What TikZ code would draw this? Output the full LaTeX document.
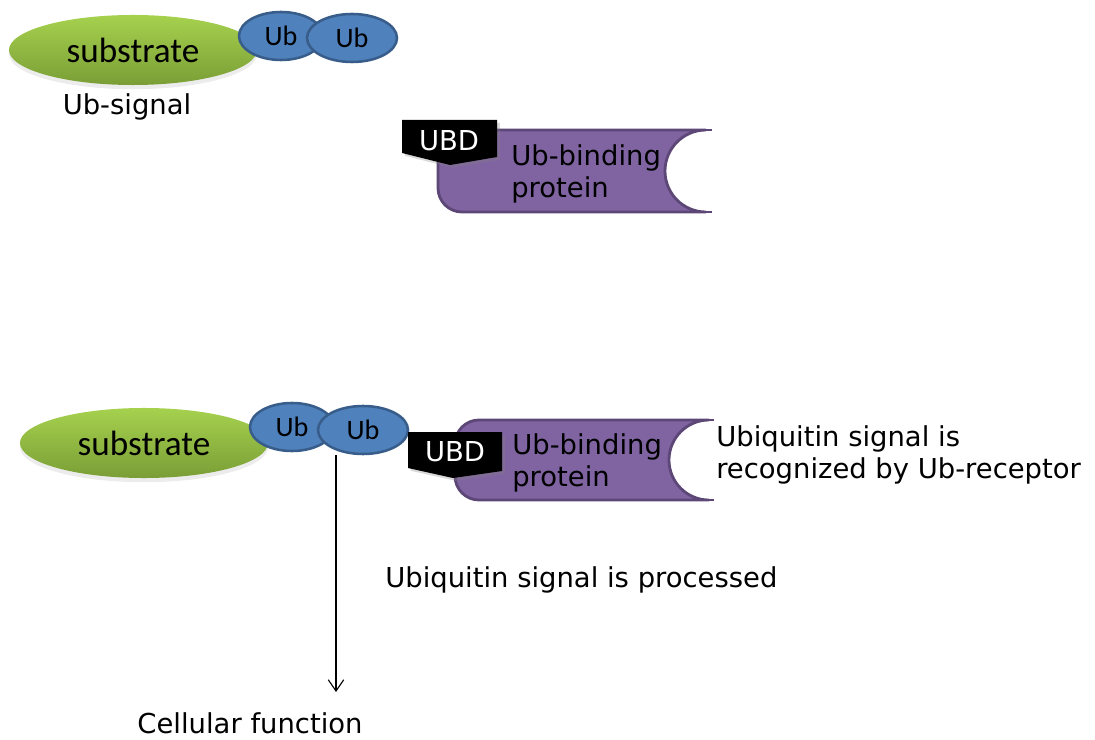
\documentclass[tikz,border=0pt]{standalone}
\usepackage{fontspec}
\setmainfont{DejaVu Sans}
\newfontfamily\calibrifont{Carlito}
\usetikzlibrary{shapes.geometric, arrows.meta, shadows}
\definecolor{subtop}{HTML}{A6D14E}
\definecolor{subbot}{HTML}{7A9E36}
\definecolor{ubfill}{HTML}{4F81BD}
\definecolor{ubline}{HTML}{385D8A}
\definecolor{protfill}{HTML}{8064A2}
\definecolor{protline}{HTML}{5C4776}

\begin{document}
\begin{tikzpicture}[x=0.025cm, y=-0.025cm,
  substrate/.style={ellipse, inner sep=0pt, minimum width=6.2cm, minimum height=1.75cm,
    top color=subtop, bottom color=subbot,
    drop shadow={shadow xshift=0pt, shadow yshift=-3pt, opacity=0.15},
    font=\calibrifont\fontsize{25}{28}\selectfont},
  ubsmall/.style={ellipse, draw=ubline, line width=1.8pt, fill=ubfill, inner sep=0pt,
    minimum height=1.2cm, font=\calibrifont\fontsize{20}{22}\selectfont},
  ubdtag/.style={fill=black, drop shadow={shadow xshift=2pt, shadow yshift=-2pt, opacity=0.3}},
  ubdtext/.style={text=white, inner sep=0pt, font=\fontsize{19.5}{22}\selectfont},
  protein/.style={fill=protfill, draw=protline, line width=2pt},
  protedge/.style={draw=protline, line width=2pt},
  label/.style={inner sep=0pt, align=left, font=\fontsize{19.5}{22.5}\selectfont},
  flow/.style={-{Straight Barb[length=8pt,width=11pt]}, line width=0.8pt}]
  \useasboundingbox (0,0) rectangle (1095,740);
  % Ub-signal
  \node[substrate] (sub1) at (133,50) {substrate};
  \node[ubsmall, minimum width=2.1cm] (ubA1) at (281,36) {Ub};
  \node[ubsmall, minimum width=2.25cm] (ubB1) at (352,38) {Ub};
  \node[label] (sig) at (127,107) {Ub-signal};
  % Ub-binding protein
  \draw[protein] (706,130) arc[start angle=90, end angle=270, radius=1.025cm]
    -- (462,212) arc[start angle=270, end angle=180, radius=0.6cm]
    -- (438,154) arc[start angle=180, end angle=90, radius=0.6cm] -- cycle;
  \draw[protedge] (705,130) -- (712,130) (705,212) -- (712,212);
  \node[label, anchor=west] (prot1) at (511,174) {Ub-binding\\protein};
  \fill[ubdtag] (402,120) -- (497,120) -- (497,157) -- (450,165) -- (402,153) -- cycle;
  \node[ubdtext] (ubd1) at (449,141) {UBD};
  % Recognition
  \node[substrate] (sub2) at (144,443) {substrate};
  \node[ubsmall, minimum width=2.1cm] (ubA2) at (292,427) {Ub};
  \node[ubsmall, minimum width=2.25cm] (ubB2) at (363,430) {Ub};
  \draw[protein] (709,420) arc[start angle=90, end angle=270, radius=1cm]
    -- (479,500) arc[start angle=270, end angle=180, radius=0.6cm]
    -- (455,444) arc[start angle=180, end angle=90, radius=0.6cm] -- cycle;
  \draw[protedge] (708,420) -- (714,420) (708,500) -- (714,500);
  \node[label, anchor=west] (prot2) at (512,463) {Ub-binding\\protein};
  \fill[ubdtag] (408,432) -- (502,432) -- (502,471) -- (453,478) -- (408,468) -- cycle;
  \node[ubdtext] (ubd2) at (455,452) {UBD};
  \node[label, anchor=west] (recog) at (716,455) {Ubiquitin signal is\\recognized by Ub-receptor};
  % Processing
  \node[label, anchor=west] (proc) at (385,580) {Ubiquitin signal is processed};
  \node[label, anchor=base] (func) at (250,733) {Cellular function};
  \coordinate (arrtop) at (336,455);
  \coordinate (arrend) at (336,692);
  \draw[flow] (arrtop) -- (arrend);
\end{tikzpicture}
\end{document}
